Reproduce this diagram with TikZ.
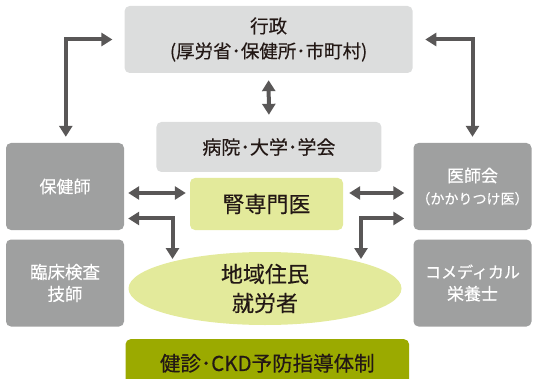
\documentclass[tikz,border=0pt]{standalone}
\usepackage{fontspec}
\setmainfont{Noto Sans CJK JP}[FakeBold=0.35]
\usetikzlibrary{arrows.meta,shapes.geometric,calc}
\definecolor{lg}{HTML}{DCDDDD}
\definecolor{mg}{HTML}{9FA0A0}
\definecolor{yg}{HTML}{E3EA9B}
\definecolor{og}{HTML}{9BAA00}
\definecolor{ar}{HTML}{595757}
\definecolor{ink}{HTML}{231815}
\begin{document}
\begin{tikzpicture}[x=1pt,y=-1pt,
  box/.style={rounded corners=5pt, inner sep=0pt, align=center},
  lbox/.style={box, fill=lg, text=ink},
  gbox/.style={box, fill=mg, text=white, minimum width=118pt, minimum height=87pt},
  darr/.style={draw=ar, line width=4pt, {Triangle[width=13pt,length=11pt]}-{Triangle[width=13pt,length=11pt]}}]
\clip (0,0) rectangle (540,379);
\useasboundingbox (0,0) rectangle (540,379);
\node[lbox, minimum width=288pt, minimum height=67pt, font=\fontsize{18.5}{25}\selectfont] (gov) at (268.6,39.5) {行政\\(厚労省･保健所･市町村)};
\node[lbox, minimum width=225pt, minimum height=50pt, font=\fontsize{19}{22}\selectfont] (hosp) at (268.9,147) {病院･大学･学会};
\node[box, fill=yg, text=ink, minimum width=153pt, minimum height=52pt, font=\fontsize{22}{26}\selectfont] (jin) at (266.5,204) {腎専門医};
\node[gbox, font=\fontsize{17}{20}\selectfont] (hokenshi) at (65,186.5) {保健師};
\node[gbox, font=\fontsize{17}{22}\selectfont] (ishikai) at (472.5,186.5) {医師会\\{\fontsize{14}{22}\selectfont （かかりつけ医）}};
\node[gbox, font=\fontsize{17.5}{22}\selectfont] (rinsho) at (65,283) {臨床検査\\技師};
\node[gbox, font=\fontsize{16}{22}\selectfont] (comed) at (472.5,283) {コメディカル\\{\fontsize{17}{22}\selectfont 栄養士}};
\node[ellipse, fill=yg, text=ink, inner sep=0pt, minimum width=273pt, minimum height=73pt, align=center, font=\fontsize{22}{29}\selectfont] (ell) at (265,288.5) {地域住民\\就労者};
\node[box, fill=og, text=ink, anchor=north, minimum width=283.5pt, minimum height=48pt, font=\fontsize{20.5}{24}\selectfont] (kenshin) at (267.3,339) {健診･CKD予防指導体制};
\draw[darr] ([xshift=-12pt]gov.west) -| ([yshift=6pt,xshift=0.8pt]hokenshi.north);
\draw[darr] ([xshift=12.5pt]gov.east) -| ([yshift=6pt]ishikai.north);
\draw[darr] ([yshift=-7pt]gov.south) -- ([yshift=7pt]hosp.north);
\draw[darr] ($(hokenshi.east)+(4,6.5)$) -- ($(jin.west)+(-4,-11)$);
\draw[darr] ($(jin.east)+(6,-11)$) -- ($(ishikai.west)+(-9,6.5)$);
\draw[darr] ($(hokenshi.east)+(4,32)$) -| ($(ell.center)+(-92.5,-29.5)$);
\draw[darr] ($(ishikai.west)+(-9,32)$) -| ($(ell.center)+(96,-29.5)$);
\end{tikzpicture}
\end{document}
